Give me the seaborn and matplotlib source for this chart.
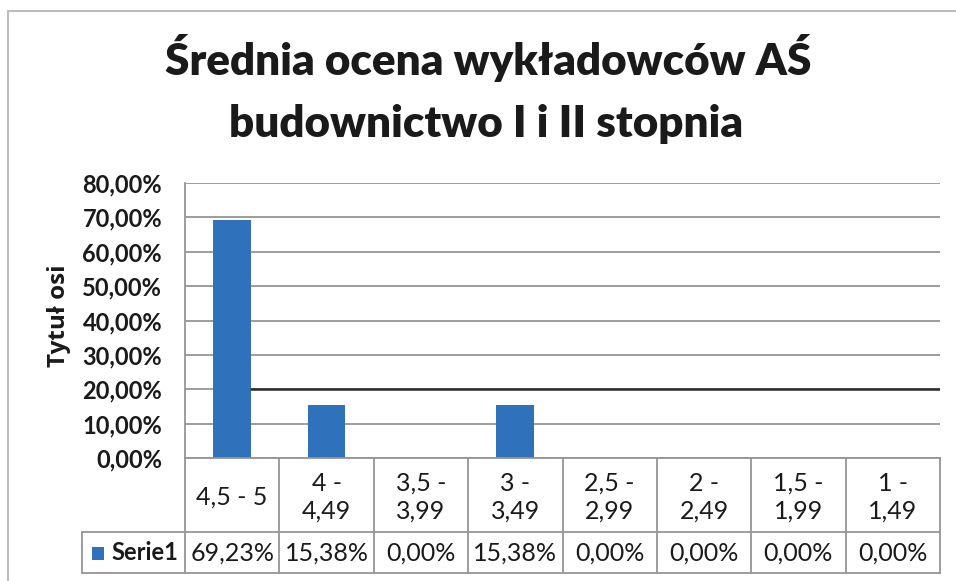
import matplotlib
matplotlib.use("Agg")
import matplotlib.pyplot as plt
import matplotlib.transforms as mtransforms
from matplotlib.lines import Line2D
from matplotlib.patches import Rectangle
import seaborn as sns
import pandas as pd

categories = ["4,5 - 5", "4 -\n4,49", "3,5 -\n3,99", "3 -\n3,49", "2,5 -\n2,99", "2 -\n2,49", "1,5 -\n1,99", "1 -\n1,49"]
values = [69.23, 15.38, 0.00, 15.38, 0.00, 0.00, 0.00, 0.00]
value_labels = ["69,23%", "15,38%", "0,00%", "15,38%", "0,00%", "0,00%", "0,00%", "0,00%"]
series_name = "Serie1"
yticks = [0, 10, 20, 30, 40, 50, 60, 70, 80]
ytick_labels = ["0,00%", "10,00%", "20,00%", "30,00%", "40,00%", "50,00%", "60,00%", "70,00%", "80,00%"]
title_lines = ["Średnia ocena wykładowców AŚ", "budownictwo I i II stopnia"]
ylabel = "Tytuł osi"
ref_line = 20.0

sns.set_theme(style="white")
FONT = ["Lato", "DejaVu Sans"]
plt.rcParams["font.family"] = FONT

W, H = 956, 581
fig = plt.figure(figsize=(W / 100, H / 100), dpi=100)
fig.patch.set_facecolor("white")

def fx(x):
    return x / W

def fy(y):
    return 1 - y / H

TXT = "#1a1a1a"
left, right, top, bottom = 185, 940, 183, 458
ax = fig.add_axes([fx(left), fy(bottom), fx(right) - fx(left), fy(top) - fy(bottom)])

df = pd.DataFrame({"cat": range(len(categories)), "val": values})
bar_color = "#2F71BA"
sns.barplot(data=df, x="cat", y="val", color=bar_color, width=0.4, ax=ax,
            saturation=1, order=list(range(len(categories))))
for p in ax.patches:
    p.set_edgecolor("none")

ax.set_xlim(-0.5, len(categories) - 0.5)
ax.set_ylim(0, 80)
ax.set_yticks(yticks)
ax.set_yticklabels(ytick_labels, fontsize=17, fontweight="bold", color=TXT)
ax.tick_params(axis="y", length=0, pad=16.5)
ax.set_xticks([])
ax.set_xlabel("")
ax.set_ylabel("")
grid_c = "#959595"
ax.yaxis.grid(True, color=grid_c, linewidth=1.3)
ax.set_axisbelow(True)
for s in ["top", "right"]:
    ax.spines[s].set_visible(False)
ax.spines["left"].set_color(grid_c)
ax.spines["bottom"].set_color(grid_c)
ax.spines["left"].set_linewidth(1.3)
ax.spines["bottom"].set_linewidth(1.3)

# dark reference line at 20%
ax.plot([0.2, len(categories) - 0.5], [ref_line, ref_line], color="#2b2b2b", lw=1.8, zorder=1.5)

fig.text(fx(59), fy(316), ylabel, rotation=90, ha="center", va="center",
         fontsize=17.5, fontweight="bold", color=TXT, family=["Open Sans", "DejaVu Sans"])

fig.text(fx(488), fy(75), title_lines[0], ha="center", va="baseline",
         fontsize=31.7, fontweight="heavy", color=TXT)
fig.text(fx(486), fy(137), title_lines[1], ha="center", va="baseline",
         fontsize=31.7, fontweight="heavy", color=TXT)

# data table
row_mid = 532
tab_bot = 573
blend = mtransforms.blended_transform_factory(ax.transData, fig.transFigure)
n = len(categories)
for i in range(n + 1):
    xd = i - 0.5
    ax.add_line(Line2D([xd, xd], [fy(bottom), fy(tab_bot)], transform=blend, color=grid_c,
                       lw=1.3, clip_on=False))
fig.add_artist(Line2D([fx(82), fx(right)], [fy(row_mid), fy(row_mid)], color=grid_c, lw=1.3))
fig.add_artist(Line2D([fx(82), fx(right)], [fy(tab_bot), fy(tab_bot)], color=grid_c, lw=1.3))
fig.add_artist(Line2D([fx(82), fx(82)], [fy(row_mid), fy(tab_bot)], color=grid_c, lw=1.3))

for i, (c, v) in enumerate(zip(categories, value_labels)):
    ax.text(i, fy((bottom + row_mid) / 2 + 2), c, transform=blend, ha="center", va="center",
            fontsize=18, color=TXT, linespacing=1.25)
    ax.text(i, fy((row_mid + tab_bot) / 2 + 1), v, transform=blend, ha="center", va="center",
            fontsize=18, color=TXT)

fig.add_artist(Rectangle((fx(92), fy(560)), fx(12), fy(547) - fy(560), facecolor=bar_color,
                         edgecolor="none", transform=fig.transFigure))
fig.text(fx(111), fy(553), series_name, ha="left", va="center", fontsize=17,
         fontweight="bold", color=TXT)

# outer chart frame
fig.add_artist(Line2D([fx(8), fx(8)], [fy(11), fy(H)], color="#bdbdbd", lw=1.5))
fig.add_artist(Line2D([fx(8), fx(W)], [fy(11), fy(11)], color="#bdbdbd", lw=1.5))

fig.savefig("out.png", dpi=100, facecolor="white")
